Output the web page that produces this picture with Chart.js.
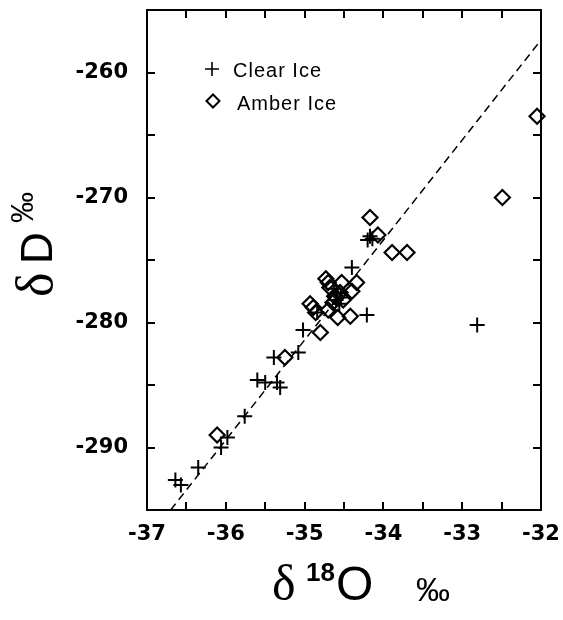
<!DOCTYPE html>
<html>
<head>
<meta charset="utf-8">
<script src="https://cdn.jsdelivr.net/npm/chart.js@4.4.1/dist/chart.umd.min.js"></script>
<style>
  body { margin: 0; background: #fff; }
  canvas { display: block; }
</style>
</head>
<body>
<canvas id="isotopes" width="563" height="620"></canvas>
<script>
// clear ice samples: d18O and dD (per mil)
const clearO = [-32.81, -34.17, -34.14, -34.20, -34.40, -34.21, -34.58, -34.54, -34.60, -34.84,
  -35.02, -35.08, -35.39, -35.60, -35.50, -35.35, -35.31, -35.76, -35.98, -36.06,
  -36.35, -36.64, -36.57, -34.63, -34.56];
const clearD = [-280.2, -273.1, -273.3, -273.4, -275.6, -279.4, -277.6, -278.0, -278.2, -279.2,
  -280.6, -282.4, -282.8, -284.6, -284.8, -284.8, -285.2, -287.5, -289.2, -290.0,
  -291.6, -292.6, -293.0, -277.3, -278.5];

// amber ice samples
const amberO = [-32.05, -32.49, -34.17, -34.07, -33.89, -33.70, -34.73, -34.70, -34.68, -34.53,
  -34.34, -34.40, -34.55, -34.60, -34.51, -34.64, -34.93, -34.89, -34.86, -34.70,
  -34.58, -34.42, -34.80, -35.25, -36.11, -34.62];
const amberD = [-263.5, -270.0, -271.6, -273.0, -274.4, -274.4, -276.5, -276.8, -277.2, -276.8,
  -276.8, -277.5, -277.6, -278.0, -278.2, -278.4, -278.5, -278.8, -279.2, -279.0,
  -279.6, -279.5, -280.8, -282.8, -289.0, -277.9];

// dashed reference line, end points
const lineO = [-36.7, -32.0];
const lineD = [-295.0, -257.4];

const xLabels = [-37, -36, -35, -34, -33, -32];
const yLabels = [-290, -280, -270, -260];

const pairs = (xs, ys) => xs.map((v, i) => ({ x: v, y: ys[i] }));

// box round the plot with short inward ticks on every side
const framePlugin = {
  id: 'frame',
  afterDatasetsDraw(chart) {
    const { ctx, chartArea: a, scales: { x, y } } = chart;
    const len = 8;
    ctx.save();
    ctx.strokeStyle = '#000';
    ctx.lineWidth = 2;
    ctx.strokeRect(a.left, a.top, a.right - a.left, a.bottom - a.top);
    ctx.beginPath();
    x.ticks.forEach(t => {
      if (t.value <= x.min || t.value >= x.max) return;
      const px = Math.round(x.getPixelForValue(t.value));
      ctx.moveTo(px, a.bottom); ctx.lineTo(px, a.bottom - len);
      ctx.moveTo(px, a.top); ctx.lineTo(px, a.top + len);
    });
    y.ticks.forEach(t => {
      if (t.value <= y.min || t.value >= y.max) return;
      const py = Math.round(y.getPixelForValue(t.value));
      ctx.moveTo(a.left, py); ctx.lineTo(a.left + len, py);
      ctx.moveTo(a.right, py); ctx.lineTo(a.right - len, py);
    });
    ctx.stroke();
    ctx.restore();
  },
  afterDraw(chart) {
    const { ctx } = chart;
    ctx.save();
    ctx.fillStyle = '#000';
    ctx.strokeStyle = '#000';

    // legend inside the plot
    ctx.lineWidth = 1.6;
    ctx.beginPath();
    ctx.moveTo(205, 69); ctx.lineTo(219, 69);
    ctx.moveTo(212, 62); ctx.lineTo(212, 76);
    ctx.stroke();
    ctx.lineWidth = 2;
    ctx.beginPath();
    ctx.moveTo(206.5, 101); ctx.lineTo(213, 94.5); ctx.lineTo(219.5, 101); ctx.lineTo(213, 107.5);
    ctx.closePath();
    ctx.stroke();
    ctx.font = '20px "Liberation Sans", Arial, sans-serif';
    ctx.letterSpacing = '1px';
    ctx.textAlign = 'left';
    ctx.textBaseline = 'alphabetic';
    ctx.fillText('Clear Ice', 233, 77);
    ctx.fillText('Amber Ice', 237, 110);
    ctx.letterSpacing = '0px';

    // y title, reading upwards
    ctx.save();
    ctx.translate(52, 297);
    ctx.rotate(-Math.PI / 2);
    ctx.font = '52px "Liberation Serif", serif';
    ctx.fillText('δ', 0, 0);
    ctx.font = '44px "Liberation Sans", Arial, sans-serif';
    ctx.fillText('D', 33, 0);
    ctx.font = '31px "Liberation Sans", Arial, sans-serif';
    ctx.fillText('‰', 74, -19);
    ctx.restore();

    // x title
    ctx.font = '50px "Liberation Serif", serif';
    ctx.fillText('δ', 272, 600);
    ctx.font = 'bold 26px "Liberation Sans", Arial, sans-serif';
    ctx.fillText('18', 306, 581);
    ctx.font = '48px "Liberation Sans", Arial, sans-serif';
    ctx.fillText('O', 336, 600);
    ctx.font = '34px "Liberation Sans", Arial, sans-serif';
    ctx.fillText('‰', 416, 601);
    ctx.restore();
  }
};

const tickFont = { family: '"DejaVu Sans", sans-serif', size: 21, weight: 'bold' };

new Chart(document.getElementById('isotopes'), {
  type: 'scatter',
  data: {
    datasets: [
      {
        label: 'Clear Ice',
        data: pairs(clearO, clearD),
        pointStyle: 'cross',
        pointRadius: 7.5,
        pointBorderWidth: 2,
        pointBorderColor: '#000',
        pointBackgroundColor: '#000',
      },
      {
        label: 'Amber Ice',
        data: pairs(amberO, amberD),
        pointStyle: 'rectRot',
        pointRadius: 7.5,
        pointBorderWidth: 2.2,
        pointBorderColor: '#000',
        pointBackgroundColor: 'rgba(0,0,0,0)',
        clip: false,
      },
      {
        type: 'line',
        label: 'line',
        data: pairs(lineO, lineD),
        borderColor: '#000',
        borderWidth: 1.5,
        borderDash: [8, 5],
        pointRadius: 0,
        showLine: true,
        fill: false,
      },
    ],
  },
  options: {
    responsive: false,
    animation: false,
    events: [],
    layout: { padding: { left: 0, top: 10, right: 22, bottom: 0 } },
    plugins: {
      legend: { display: false },
      tooltip: { enabled: false },
    },
    scales: {
      x: {
        type: 'linear',
        min: -37,
        max: -32,
        afterFit: (s) => { s.height = 110; s.paddingLeft = 0; s.paddingRight = 0; },
        border: { display: false },
        grid: { display: false, drawTicks: false },
        ticks: {
          stepSize: 0.5,
          autoSkip: false,
          maxRotation: 0,
          padding: 12,
          color: '#000',
          font: tickFont,
          callback: (v) => (xLabels.includes(v) ? String(v) : ''),
        },
      },
      y: {
        type: 'linear',
        min: -295,
        max: -255,
        afterFit: (s) => { s.width = 147; s.paddingTop = 0; s.paddingBottom = 0; },
        border: { display: false },
        grid: { display: false, drawTicks: false },
        ticks: {
          stepSize: 5,
          autoSkip: false,
          padding: 19,
          color: '#000',
          font: tickFont,
          callback: (v) => (yLabels.includes(v) ? String(v) : ''),
        },
      },
    },
  },
  plugins: [framePlugin],
});
</script>
</body>
</html>
